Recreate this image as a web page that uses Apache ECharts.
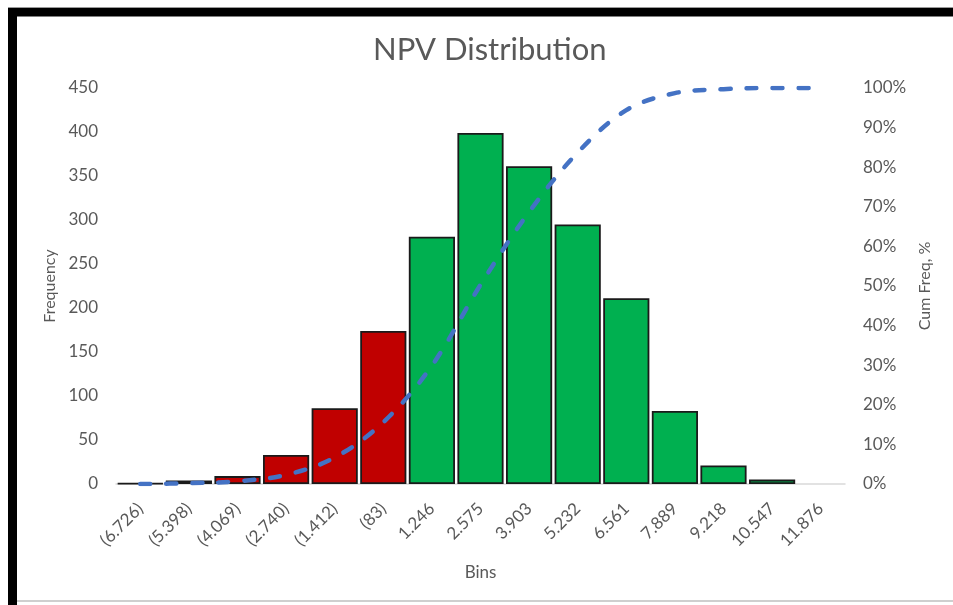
<!DOCTYPE html>
<html>
<head>
<meta charset="utf-8">
<script src="https://cdn.jsdelivr.net/npm/echarts@6/dist/echarts.min.js"></script>
<style>
html,body{margin:0;padding:0;background:#fff;}
#chart{width:953px;height:605px;}
</style>
</head>
<body>
<div id="chart"></div>
<script>
const bins = ['(6.726)','(5.398)','(4.069)','(2.740)','(1.412)','(83)','1.246','2.575','3.903','5.232','6.561','7.889','9.218','10.547','11.876'];
const frequency = [1, 4, 9, 33, 86, 174, 281, 399, 361, 295, 211, 83, 21, 5, 0];
const cumFreqPct = [0, 0.2, 0.7, 2.3, 6.7, 15.6, 29.9, 50.3, 68.7, 83.7, 94.4, 98.7, 99.7, 100, 100];

const FONT = 'Lato';
const GREY = '#595959';

const barData = frequency.map(function (v, i) {
  return {
    value: v,
    itemStyle: {
      color: bins[i].charAt(0) === '(' ? '#C00000' : '#00B050',
      borderWidth: v === 0 ? 0 : 1.8
    }
  };
});

const chart = echarts.init(document.getElementById('chart'));
chart.setOption({
  backgroundColor: '#ffffff',
  animation: false,
  title: {
    text: 'NPV Distribution',
    left: 368,
    top: 29,
    textStyle: { fontFamily: FONT, fontSize: 31, fontWeight: 'normal', color: GREY }
  },
  graphic: [
    { type: 'rect', shape: { x: 8, y: 7, width: 945, height: 1 }, style: { fill: '#9a9a9a' } },
    { type: 'rect', shape: { x: 8, y: 8, width: 945, height: 8.5 }, style: { fill: '#000' } },
    { type: 'rect', shape: { x: 8, y: 8, width: 9, height: 597 }, style: { fill: '#000' } },
    { type: 'rect', shape: { x: 17, y: 600, width: 936, height: 2 }, style: { fill: '#cfcfcf' } }
  ],
  grid: { left: 116, right: 108, top: 88, bottom: 121, containLabel: false },
  xAxis: {
    type: 'category',
    data: bins,
    name: 'Bins',
    nameLocation: 'middle',
    nameGap: 80,
    nameTextStyle: { fontFamily: FONT, fontSize: 17, color: GREY },
    axisLine: { lineStyle: { color: '#d9d9d9', width: 1.5 } },
    axisTick: { show: false },
    axisLabel: { rotate: 45, margin: 22, fontFamily: FONT, fontSize: 17, color: GREY, interval: 0 }
  },
  yAxis: [
    {
      type: 'value', min: 0, max: 450, interval: 50,
      name: 'Frequency', nameLocation: 'middle', nameRotate: 90, nameGap: 57,
      nameTextStyle: { fontFamily: FONT, fontSize: 16, color: GREY },
      axisLine: { show: false }, axisTick: { show: false }, splitLine: { show: false },
      axisLabel: { margin: 18, fontFamily: FONT, fontSize: 17, color: GREY }
    },
    {
      type: 'value', min: 0, max: 100, interval: 10,
      name: 'Cum Freq, %', nameLocation: 'middle', nameRotate: 90, nameGap: 72,
      nameTextStyle: { fontFamily: FONT, fontSize: 16, color: GREY },
      axisLine: { show: false }, axisTick: { show: false }, splitLine: { show: false },
      axisLabel: { margin: 18, fontFamily: FONT, fontSize: 17, color: GREY, formatter: '{value}%' }
    }
  ],
  series: [
    {
      name: 'Frequency',
      type: 'bar',
      yAxisIndex: 0,
      data: barData,
      barCategoryGap: '5%',
      itemStyle: { borderColor: '#1a1a1a' }
    },
    {
      name: 'Cum Freq',
      type: 'line',
      yAxisIndex: 1,
      data: cumFreqPct,
      smooth: 0.35,
      symbol: 'none',
      lineStyle: { color: '#4472C4', width: 4.5, type: [10, 16], cap: 'round' },
      z: 5
    }
  ]
});
</script>
</body>
</html>
